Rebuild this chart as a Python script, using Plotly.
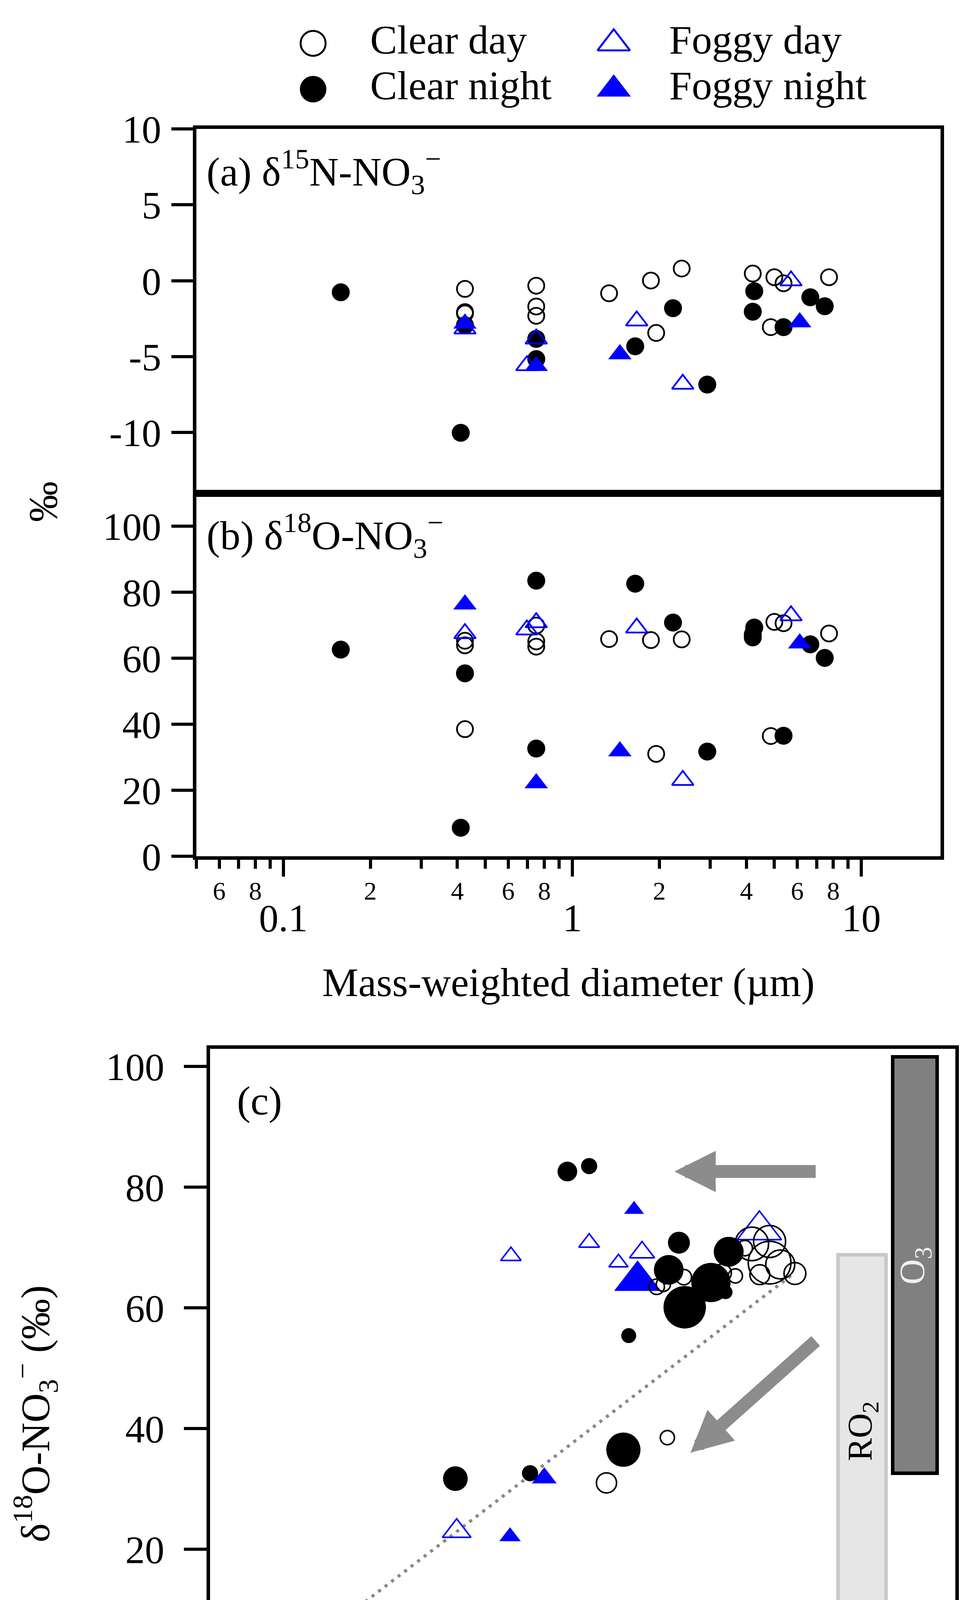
import plotly.graph_objects as go

# ---------------- data (diameter in um, d15N and d18O in permil) ----------------
clear_day_d = [0.425, 0.425, 0.425, 0.75, 0.75, 0.75, 1.34, 1.87, 1.95, 2.39, 4.21, 5.00, 5.38, 4.86, 7.73]
clear_day_n = [-0.54, -2.07, -2.16, -0.33, -1.70, -2.31, -0.83, 0.01, -3.44, 0.80, 0.47, 0.23, -0.17, -3.06, 0.23]
clear_day_o = [65.3, 38.5, 63.9, 69.9, 65.1, 63.5, 65.8, 65.5, 31.0, 65.7, 67.2, 71.0, 70.6, 36.4, 67.5]

clear_night_d = [0.158, 0.411, 0.425, 0.75, 0.75, 1.65, 2.23, 2.93, 4.26, 4.21, 5.38, 6.66, 7.47]
clear_night_n = [-0.76, -10.02, -2.94, -3.83, -5.16, -4.32, -1.81, -6.84, -0.69, -2.04, -3.06, -1.09, -1.68]
clear_night_o = [62.6, 8.6, 55.4, 83.5, 32.6, 82.6, 70.8, 31.7, 69.3, 66.3, 36.5, 64.2, 60.1]

foggy_day_d = [0.425, 0.75, 0.696, 1.67, 2.41, 5.71]
foggy_day_n = [-3.17, -3.83, -5.59, -2.64, -6.81, 0.0]
foggy_day_o = [67.5, 70.8, 68.6, 69.2, 23.0, 72.9]

foggy_night_d = [0.425, 0.75, 1.46, 6.12]
foggy_night_n = [-2.82, -5.61, -4.84, -2.74]
foggy_night_o = [76.3, 22.1, 31.8, 64.5]

# fitted mixing line in panel (c)
fit_n = [-10.04, 0.72]
fit_o = [4.7, 65.4]

# end-member boxes in panel (c): [x0, x1, y0, y1]
o3_box = [3.0, 4.0, 32.6, 101.6]
ro2_box = [1.77, 2.85, 10.5, 68.8]

# arrows in panel (c): (tail x, tail y, tip x, tip y)
arrow_left = (1.28, 82.6, -1.91, 82.6)
arrow_down = (1.28, 54.6, -1.55, 36.0)

# size key in panel (c)
key_d = [0.1, 1, 5]
key_labels = ["0.1", "1", "5"]
key_x = [0.01, 1.53, 3.03]

# tick labels
log_minor_lab_vals = [0.06, 0.08, 0.2, 0.4, 0.6, 0.8, 2, 4, 6, 8]
log_minor_lab_text = ["6", "8", "2", "4", "6", "8", "2", "4", "6", "8"]
log_minor_vals = [0.05, 0.07, 0.09, 0.3, 0.5, 0.7, 0.9, 3, 5, 7, 9]
log_major_vals = [0.1, 1, 10]
log_major_text = ["0.1", "1", "10"]

FONT = "Liberation Serif"
BLUE = "#0000ff"
GRAY = "#8c8c8c"

W, H, OFF = 2448, 5002, 8


def px_x(p):
    return (p - OFF) / W


def px_y(p):
    return 1 - (p - OFF) / H


def circ_size(d):
    return 34 + 10 * d


def tri_size(d):
    return 40 + 10.5 * d


groups = [
    ("Clear day", clear_day_d, clear_day_n, clear_day_o, "circle-open", "black"),
    ("Clear night", clear_night_d, clear_night_n, clear_night_o, "circle", "black"),
    ("Foggy day", foggy_day_d, foggy_day_n, foggy_day_o, "triangle-up-open", BLUE),
    ("Foggy night", foggy_night_d, foggy_night_n, foggy_night_o, "triangle-up", BLUE),
]
fixed_size = {"circle-open": 41, "circle": 46, "triangle-up-open": 48, "triangle-up": 52}

fig = go.Figure()

# panels (a) and (b)
for name, d, n, o, sym, col in groups:
    mk = dict(symbol=sym, color=col, size=fixed_size[sym], opacity=1,
              line=dict(width=4.5 if "open" in sym else 0, color=col))
    fig.add_trace(go.Scatter(x=d, y=n, mode="markers", marker=mk, name=name,
                             xaxis="x", yaxis="y", showlegend=False))
    fig.add_trace(go.Scatter(x=d, y=o, mode="markers", marker=mk, name=name,
                             xaxis="x2", yaxis="y2", showlegend=False))

# empty trace so the overlaid major-tick axis is drawn
fig.add_trace(go.Scatter(x=[], y=[], xaxis="x5", yaxis="y2", showlegend=False, hoverinfo="skip"))

# panel (c): fit line first
fig.add_trace(go.Scatter(x=fit_n, y=fit_o, mode="lines", xaxis="x3", yaxis="y3", showlegend=False,
                         line=dict(color="#888888", width=8, dash="8px,13px")))

for idx in [3, 2, 0, 1]:
    name, d, n, o, sym, col = groups[idx]
    if sym.startswith("circle"):
        sizes = [circ_size(v) - (2 if "open" in sym else 0) for v in d]
    else:
        sizes = [tri_size(v) - (2 if "open" in sym else 0) for v in d]
    fig.add_trace(go.Scatter(x=n, y=o, mode="markers", name=name, xaxis="x3", yaxis="y3", showlegend=False,
                             marker=dict(symbol=sym, color=col, size=sizes, opacity=1,
                                         line=dict(width=4 if "open" in sym else 0, color=col))))

# size key in panel (c)
fig.add_trace(go.Scatter(x=key_x, y=[-4.9] * 3, mode="markers", xaxis="x3", yaxis="y3", showlegend=False,
                         marker=dict(symbol="circle-open", color="black", opacity=1,
                                     size=[circ_size(v) - 2 for v in key_d], line=dict(width=3.5))))
fig.add_trace(go.Scatter(x=key_x, y=[-12.6] * 3, mode="text", text=key_labels, xaxis="x3", yaxis="y3",
                         showlegend=False, textfont=dict(family=FONT, size=72, color="black")))

# top key, drawn on a hidden pixel-scaled subplot
leg_sym_x = [802, 802, 1572, 1572]
leg_txt_x = [948, 948, 1714, 1714]
leg_y = [58, 178, 58, 178]
leg_size = {"circle-open": 64, "circle": 68, "triangle-up-open": 72, "triangle-up": 76}
for i, (name, d, n, o, sym, col) in enumerate(groups):
    fig.add_trace(go.Scatter(x=[leg_sym_x[i]], y=[leg_y[i]], mode="markers", xaxis="x4", yaxis="y4",
                             showlegend=False, hoverinfo="skip",
                             marker=dict(symbol=sym, color=col, size=leg_size[sym], opacity=1,
                                         line=dict(width=5 if "open" in sym else 0, color=col))))
    fig.add_trace(go.Scatter(x=[leg_txt_x[i]], y=[leg_y[i]], mode="text", text=[name], textposition="middle right",
                             xaxis="x4", yaxis="y4", showlegend=False, hoverinfo="skip",
                             textfont=dict(family=FONT, size=104, color="black")))

tickfont = dict(family=FONT, size=100, color="black")
frame = dict(showline=True, linewidth=9, linecolor="black", mirror=True, showgrid=False, zeroline=False)

AB_X = [px_x(503), px_x(2409)]
log_range = [-1.301, 1.274]

fig.update_layout(
    width=W, height=H, margin=dict(l=0, r=0, t=0, b=0),
    paper_bgcolor="white", plot_bgcolor="rgba(0,0,0,0)",
    font=dict(family=FONT, size=100, color="black"),
    xaxis=dict(domain=AB_X, anchor="y", type="log", range=log_range, showticklabels=False, ticks="", **frame),
    yaxis=dict(domain=[px_y(1236), px_y(282)], anchor="x", range=[-14, 10],
               tickvals=[-10, -5, 0, 5, 10], ticktext=["-10", "-5", "0", "5", "10"],
               ticks="outside", ticklen=55, tickwidth=8, tickcolor="black", tickfont=tickfont,
               ticklabelstandoff=6, **frame),
    xaxis2=dict(domain=AB_X, anchor="y2", type="log", range=log_range,
                tickvals=log_minor_lab_vals, ticktext=log_minor_lab_text,
                ticks="outside", ticklen=23, tickwidth=8, tickcolor="black",
                tickfont=dict(family=FONT, size=66, color="black"), ticklabelstandoff=0,
                minor=dict(tickvals=log_minor_vals, ticks="outside", ticklen=23, tickwidth=8, tickcolor="black"),
                title=dict(text="Mass-weighted diameter (µm)", font=dict(family=FONT, size=104), standoff=165),
                **frame),
    xaxis5=dict(overlaying="x2", anchor="y2", side="bottom", type="log", range=log_range,
                tickvals=log_major_vals, ticktext=log_major_text, ticks="outside", ticklen=51, tickwidth=8,
                tickcolor="black", tickfont=tickfont, ticklabelstandoff=20, showline=False,
                showgrid=False, zeroline=False),
    yaxis2=dict(domain=[px_y(2186), px_y(1236)], anchor="x2", range=[0, 110],
                tickvals=[0, 20, 40, 60, 80, 100], ticks="outside", ticklen=55, tickwidth=8,
                tickcolor="black", tickfont=tickfont, ticklabelstandoff=6, **frame),
    xaxis3=dict(domain=[px_x(538), px_x(2447)], anchor="y3", range=[-12.36, 4.41],
                tickvals=[-10, -5, 0], ticktext=["-10", "-5", "0"], ticks="outside", ticklen=58, tickwidth=8,
                tickcolor="black", tickfont=tickfont, ticklabelstandoff=3,
                title=dict(text="δ<sup>15</sup>N-NO<sub>3</sub><sup>−</sup> (‰)",
                           font=dict(family=FONT, size=104), standoff=95),
                **frame),
    yaxis3=dict(domain=[px_y(4601), px_y(2691)], anchor="x3", range=[-18, 102.9],
                tickvals=[0, 20, 40, 60, 80, 100], ticks="outside", ticklen=58, tickwidth=8,
                tickcolor="black", tickfont=tickfont, ticklabelstandoff=30,
                title=dict(text="δ<sup>18</sup>O-NO<sub>3</sub><sup>−</sup> (‰)",
                           font=dict(family=FONT, size=104), standoff=113),
                **frame),
    xaxis4=dict(domain=[0, 1], anchor="y4", range=[OFF, OFF + W], visible=False),
    yaxis4=dict(domain=[px_y(260), 1], anchor="x4", range=[260, OFF], visible=False),
)

# boxes and arrows in panel (c)
fig.add_shape(type="rect", xref="x3", yref="y3", x0=o3_box[0], x1=o3_box[1], y0=o3_box[2], y1=o3_box[3],
              fillcolor="#808080", line=dict(color="black", width=9), layer="below")
fig.add_shape(type="rect", xref="x3", yref="y3", x0=ro2_box[0], x1=ro2_box[1], y0=ro2_box[2], y1=ro2_box[3],
              fillcolor="#e6e6e6", line=dict(color="#c8c8c8", width=9), layer="below")
for ax_, ay_, x_, y_ in [arrow_left, arrow_down]:
    fig.add_annotation(x=x_, y=y_, ax=ax_, ay=ay_, xref="x3", yref="y3", axref="x3", ayref="y3",
                       text="", showarrow=True, arrowhead=2, arrowsize=0.64, arrowwidth=33, arrowcolor=GRAY)

fig.add_annotation(x=(o3_box[0] + o3_box[1]) / 2, y=67.0, xref="x3", yref="y3", text="O<sub>3</sub>",
                   textangle=-90, showarrow=False, font=dict(family=FONT, size=90, color="#f0f0f0"))
fig.add_annotation(x=(ro2_box[0] + ro2_box[1]) / 2, y=39.6, xref="x3", yref="y3", text="RO<sub>2</sub>",
                   textangle=-90, showarrow=False, font=dict(family=FONT, size=88, color="black"))

# key titles in panel (c)
fig.add_annotation(x=-2.56, y=-3.8, xref="x3", yref="y3", text="Diameter", showarrow=False,
                   font=dict(family=FONT, size=104))
fig.add_annotation(x=-2.56, y=-12.6, xref="x3", yref="y3", text="(µm)", showarrow=False,
                   font=dict(family=FONT, size=104))

# panel labels
fig.add_annotation(x=0.0126, y=0.882, xref="x domain", yref="y domain", xanchor="left", yanchor="middle",
                   text="(a) δ<sup>15</sup>N-NO<sub>3</sub><sup>−</sup>", showarrow=False,
                   font=dict(family=FONT, size=104))
fig.add_annotation(x=0.0126, y=0.884, xref="x2 domain", yref="y2 domain", xanchor="left", yanchor="middle",
                   text="(b) δ<sup>18</sup>O-NO<sub>3</sub><sup>−</sup>", showarrow=False,
                   font=dict(family=FONT, size=104))
fig.add_annotation(x=0.035, y=0.929, xref="x3 domain", yref="y3 domain", xanchor="left", yanchor="middle",
                   text="(c)", showarrow=False, font=dict(family=FONT, size=104))

# shared y label for (a) and (b)
fig.add_annotation(x=px_x(110), y=px_y(1258), xref="paper", yref="paper", xanchor="center", yanchor="middle",
                   text="‰", textangle=-90, showarrow=False, font=dict(family=FONT, size=104))

fig.write_html("out.html")
